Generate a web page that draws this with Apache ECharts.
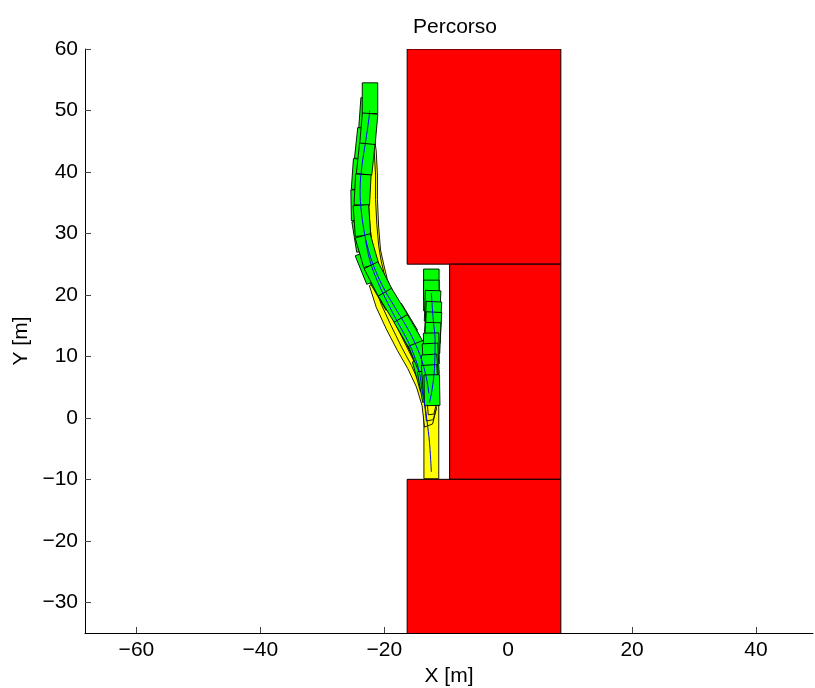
<!DOCTYPE html>
<html>
<head>
<meta charset="utf-8">
<script src="https://cdn.jsdelivr.net/npm/echarts@6/dist/echarts.min.js"></script>
<style>
  html, body { margin: 0; padding: 0; background: #fff; }
  #chart { width: 815px; height: 688px; }
</style>
</head>
<body>
<div id="chart"></div>
<script>
// Obstacles (parked blocks), corners in metres
const obstacleX0 = [-16.3, -9.45, -16.3];
const obstacleX1 = [8.5, 8.5, 8.5];
const obstacleY0 = [25, -10, -40];
const obstacleY1 = [60, 25, -10];

// Vehicle footprint (metres)
const CAR_W = 2.5;
const CAR_L = 5.0;

// Intermediate vehicle poses (drawn underneath): centre x, centre y, heading (deg, CCW from +y)
const passX = [-22.7, -23.3, -23.9, -24.1, -23.6, -22.6, -19.9, -17.0, -14.8, -13.6];
const passY = [49.5, 44.6, 39.6, 34.6, 29.6, 24.5, 20.3, 15.8, 11.5, 7.0];
const passA = [-4, -6, -4, 1, 9, 22, 30, 31, 26, 15];

// Vehicle poses along the exit manoeuvre
const exitX = [-22.3, -22.5, -23.0, -23.5, -23.6, -22.8, -21.0, -18.6, -16.1, -14.0, -13.0];
const exitY = [52.0, 47.0, 42.1, 37.1, 32.1, 27.2, 22.6, 18.3, 14.0, 9.8, 5.2];
const exitA = [0, -5, -6, -3, 4, 16, 27, 31, 30, 22, 10];

// Vehicle poses inside the slot
const slotX = [-12.4, -12.4, -12.2, -12.1, -12.1, -12.2, -12.4, -12.5, -12.6, -12.6, -12.3];
const slotY = [21.7, 19.9, 18.2, 16.4, 14.7, 13.0, 11.3, 9.6, 7.8, 6.1, 4.5];
const slotA = [0, 0, -2, -3, -3, -2, 1, 3, 4, 4, 1];

// Swept area outlines (x list, y list per polygon)
const sweepStartX = [-13.6, -11.2, -11.2, -13.6];
const sweepStartY = [-9.9, -9.9, 2.0, 2.0];

const sweepLowX = [-13.5, -13.9, -14.8, -16.2, -17.9, -19.7, -21.3, -22.4, -20.6, -18.2, -15.8, -13.8, -12.3, -11.6, -12.2];
const sweepLowY = [-1.5, 2.0, 5.0, 8.0, 11.0, 14.5, 18.0, 21.5, 22.5, 17.5, 13.0, 8.5, 4.5, 1.5, -1.0];
const sweepLow2X = [-13.2, -13.5, -14.3, -15.6, -17.2, -18.9, -20.5, -21.6, -20.2, -17.8, -15.4, -13.5, -12.2, -11.6, -12.1];
const sweepLow2Y = [-0.5, 2.5, 5.5, 8.5, 11.5, 15.0, 18.5, 21.8, 22.3, 17.3, 12.8, 8.3, 4.3, 1.5, -0.3];
const sweepLow3X = [-12.9, -13.1, -13.9, -15.1, -16.6, -18.3, -19.8, -20.9, -19.8, -17.4, -15.0, -13.2, -12.1, -11.7, -12.0];
const sweepLow3Y = [0.5, 3.0, 6.0, 9.0, 12.0, 15.5, 19.0, 22.0, 22.2, 17.0, 12.5, 8.0, 4.2, 1.8, 0.6];

const sweepHighX = [-18.4, -19.5, -20.1, -20.6, -20.9, -21.1, -21.1, -21.3, -21.7, -22.4, -22.7, -22.6, -22.3, -21.7, -20.8, -19.5];
const sweepHighY = [20.0, 22.5, 25.0, 27.3, 31.0, 35.5, 39.5, 43.5, 46.0, 46.0, 41.0, 36.0, 31.0, 26.5, 23.0, 20.0];
const sweepHigh2X = [-18.9, -19.9, -20.5, -20.9, -21.2, -21.4, -21.4, -21.6, -22.0, -22.4, -22.7, -22.6, -22.3, -21.7, -20.8, -19.6];
const sweepHigh2Y = [20.5, 23.0, 25.5, 28.0, 31.5, 35.5, 39.5, 43.0, 45.0, 45.5, 41.0, 36.0, 31.0, 26.5, 23.0, 20.5];

// Reference-point paths
const pathExitX = [-12.4, -12.7, -13.1, -13.4, -13.9, -14.3, -15.2, -16.3, -17.8, -19.5, -21.0, -22.3, -23.1, -23.7, -23.9, -23.6, -23.0, -22.5, -22.35];
const pathExitY = [-8.8, -4.0, -0.5, 1.8, 4.5, 7.3, 10.2, 12.7, 15.5, 18.8, 22.0, 25.5, 29.5, 33.5, 37.0, 41.0, 45.0, 48.5, 50.0];
const pathSlotX = [-12.4, -12.1, -11.8, -11.9, -12.3, -12.7];
const pathSlotY = [20.3, 16.0, 12.7, 8.0, 4.5, 2.5];
const pathJoinX = [-23.0, -22.0, -20.3, -18.3, -16.5, -15.2, -14.0, -13.2, -12.8];
const pathJoinY = [29.0, 25.5, 21.5, 18.0, 15.0, 12.5, 9.5, 6.5, 4.0];

// Axis ticks
const xTicks = [-60, -40, -20, 0, 20, 40];
const yTicks = [-30, -20, -10, 0, 10, 20, 30, 40, 50, 60];

const FONT = 'Liberation Sans, Arial, Helvetica, sans-serif';
const fmt = v => String(v).replace('-', '\u2212');

function zipPts(xs, ys) { return xs.map((x, i) => [x, ys[i]]); }

function poses(xs, ys, as) { return xs.map((x, i) => [x, ys[i], as[i]]); }

// Rotated rectangle for a vehicle pose
function renderCar(params, api) {
  const cx = api.value(0), cy = api.value(1), a = api.value(2) * Math.PI / 180;
  const hx = -Math.sin(a), hy = Math.cos(a);
  const sx = Math.cos(a), sy = Math.sin(a);
  const l = CAR_L / 2, w = CAR_W / 2;
  const pts = [
    [cx + hx * l + sx * w, cy + hy * l + sy * w],
    [cx + hx * l - sx * w, cy + hy * l - sy * w],
    [cx - hx * l - sx * w, cy - hy * l - sy * w],
    [cx - hx * l + sx * w, cy - hy * l + sy * w]
  ].map(p => api.coord(p));
  return {
    type: 'polygon',
    shape: { points: pts },
    style: { fill: '#00ff00', stroke: '#000', lineWidth: 0.9 }
  };
}

function carSeries(xs, ys, as) {
  return {
    type: 'custom', clip: true, silent: true,
    data: poses(xs, ys, as),
    encode: { x: 0, y: 1 },
    renderItem: renderCar, z: 3
  };
}

function renderBlock(params, api) {
  const p0 = api.coord([api.value(0), api.value(1)]);
  const p1 = api.coord([api.value(2), api.value(3)]);
  return {
    type: 'polygon',
    shape: { points: [[p0[0], p0[1]], [p1[0], p0[1]], [p1[0], p1[1]], [p0[0], p1[1]]] },
    style: { fill: '#ff0000', stroke: '#000', lineWidth: 1 }
  };
}

function polygonSeries(xs, ys) {
  const pts = zipPts(xs, ys);
  return {
    type: 'custom',
    clip: true,
    silent: true,
    data: pts,
    encode: { x: 0, y: 1 },
    renderItem: (params, api) => {
      if (params.dataIndex !== 0) return null;
      return {
        type: 'polygon',
        shape: { points: pts.map(p => api.coord(p)) },
        style: { fill: '#ffff00', stroke: '#000', lineWidth: 0.9 }
      };
    }
  };
}

function pathSeries(xs, ys) {
  return {
    type: 'line',
    data: zipPts(xs, ys),
    showSymbol: false,
    smooth: 0.4,
    silent: true,
    clip: true,
    lineStyle: { color: '#0000ff', width: 1 },
    z: 5
  };
}

const chart = echarts.init(document.getElementById('chart'), null, { renderer: 'canvas' });

chart.setOption({
  animation: false,
  backgroundColor: '#ffffff',
  title: {
    text: 'Percorso',
    left: 450,
    textAlign: 'center',
    top: 12,
    textStyle: { fontFamily: FONT, fontSize: 21, fontWeight: 'normal', color: '#000' }
  },
  grid: { left: 85, right: 2, top: 49, bottom: 55, containLabel: false, outerBoundsMode: 'none' },
  xAxis: {
    type: 'value',
    min: -68.3,
    max: 49.2,
    name: 'X [m]',
    nameLocation: 'middle',
    nameGap: 32,
    nameTextStyle: { fontFamily: FONT, fontSize: 21, color: '#000' },
    axisLine: { show: true, onZero: false, lineStyle: { color: '#000', width: 1 } },
    axisTick: { show: true, inside: true, length: 6, customValues: xTicks, lineStyle: { color: '#444' } },
    axisLabel: { customValues: xTicks, formatter: fmt, fontFamily: FONT, fontSize: 21, color: '#000', margin: 7 },
    splitLine: { show: false }
  },
  yAxis: {
    type: 'value',
    min: -35,
    max: 60,
    name: 'Y [m]',
    nameLocation: 'middle',
    nameGap: 52,
    nameTextStyle: { fontFamily: FONT, fontSize: 21, color: '#000' },
    axisLine: { show: true, onZero: false, lineStyle: { color: '#000', width: 1 } },
    axisTick: { show: true, inside: true, length: 6, customValues: yTicks, lineStyle: { color: '#444' } },
    axisLabel: { customValues: yTicks, formatter: fmt, fontFamily: FONT, fontSize: 21, color: '#000', margin: 7 },
    splitLine: { show: false }
  },
  series: [
    {
      type: 'custom',
      clip: true,
      silent: true,
      data: obstacleX0.map((x, i) => [x, obstacleY0[i], obstacleX1[i], obstacleY1[i]]),
      encode: { x: [0, 2], y: [1, 3] },
      renderItem: renderBlock,
      z: 1
    },
    polygonSeries(sweepStartX, sweepStartY),
    polygonSeries(sweepLowX, sweepLowY),
    polygonSeries(sweepLow2X, sweepLow2Y),
    polygonSeries(sweepLow3X, sweepLow3Y),
    polygonSeries(sweepHighX, sweepHighY),
    polygonSeries(sweepHigh2X, sweepHigh2Y),
    carSeries(passX, passY, passA),
    carSeries(exitX, exitY, exitA),
    carSeries(slotX, slotY, slotA),
    pathSeries(pathExitX, pathExitY),
    pathSeries(pathSlotX, pathSlotY),
    pathSeries(pathJoinX, pathJoinY)
  ]
});
</script>
</body>
</html>
